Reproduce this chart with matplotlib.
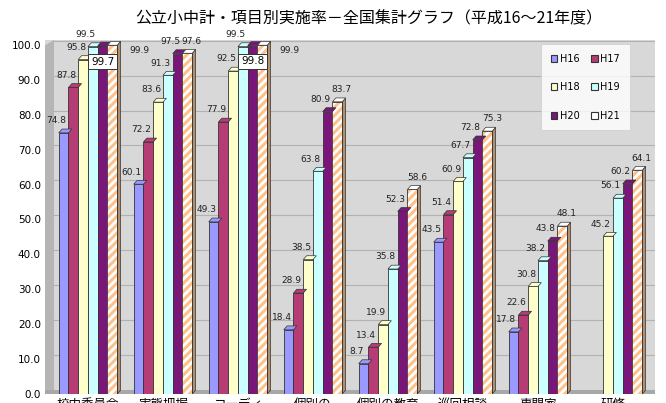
import matplotlib
matplotlib.use("Agg")
from matplotlib import pyplot as plt
from matplotlib.patches import Polygon, Rectangle
import numpy as np

plt.rcParams['font.family'] = ['Noto Sans CJK JP', 'DejaVu Sans']
plt.rcParams['hatch.linewidth'] = 2.2

# 項目別実施率（%）
items = ["校内委員会", "実態把握", "コーディ\nネーター", "個別の\n指導計画",
         "個別の教育\n支援計画", "巡回相談", "専門家\nチーム", "研修"]
years = ["H16", "H17", "H18", "H19", "H20", "H21"]
h16 = [74.8, 60.1, 49.3, 18.4, 8.7, 43.5, 17.8, None]
h17 = [87.8, 72.2, 77.9, 28.9, 13.4, 51.4, 22.6, None]
h18 = [95.8, 83.6, 92.5, 38.5, 19.9, 60.9, 30.8, 45.2]
h19 = [99.5, 91.3, 99.5, 63.8, 35.8, 67.7, 38.2, 56.1]
h20 = [99.7, 97.5, 99.8, 80.9, 52.3, 72.8, 43.8, 60.2]
h21 = [99.9, 97.6, 99.9, 83.7, 58.6, 75.3, 48.1, 64.1]
series = [h16, h17, h18, h19, h20, h21]

colors = ["#9999FF", "#B53C74", "#FFFFCC", "#CCFFFF", "#7A157A", "#FFFFFF"]
sides = ["#6666B0", "#6E1E44", "#B8B88A", "#88B0B0", "#45084A", "#B09070"]

fig = plt.figure(figsize=(6.66, 4.03), dpi=100)
ax = fig.add_axes([45 / 666, 9 / 403, 610 / 666, 354 / 403])

xmin, xmax = -0.573, 7.56
ymax = 101.4
ax.set_xlim(xmin, xmax)
ax.set_ylim(0, ymax)
ax.set_facecolor("#D8D8D8")

# 奥の壁と床
ax.add_patch(Polygon([(xmin, 0), (xmin + 0.12, 1.2), (xmin + 0.12, ymax),
                      (xmin, ymax - 1.5)], closed=True, facecolor="#B5B5B5",
                     edgecolor="none", zorder=0.5))
ax.add_patch(Rectangle((xmin, 0), xmax - xmin, 1.2, facecolor="#A8A8A8",
                       edgecolor="none", zorder=0.6))
for g in range(10, 101, 10):
    ax.plot([xmin + 0.12, xmax], [g + 1.2, g + 1.2], color="#B2B2B2", lw=0.8, zorder=0.7)

w = 0.13
dx, dy = 0.045, 1.1
x = np.arange(len(items))

for j, vals in enumerate(series):
    for i, v in enumerate(vals):
        if v is None:
            continue
        left = x[i] - 3 * w + j * w
        if j == 5:
            ax.bar(left, v, w, align="edge", color="#FFFFFF", hatch="////",
                   edgecolor="#FFC08A", linewidth=0, zorder=3)
            ax.bar(left, v, w, align="edge", fill=False, edgecolor="#333333",
                   linewidth=0.6, zorder=3.1)
        else:
            ax.bar(left, v, w, align="edge", color=colors[j], edgecolor="#333333",
                   linewidth=0.6, zorder=3)
        ax.add_patch(Polygon([(left + w, 0), (left + w + dx, dy), (left + w + dx, v + dy),
                              (left + w, v)], closed=True, facecolor=sides[j],
                             edgecolor="#333333", linewidth=0.5, zorder=2.9))
        ax.add_patch(Polygon([(left, v), (left + dx, v + dy), (left + w + dx, v + dy),
                              (left + w, v)], closed=True, facecolor=colors[j],
                             edgecolor="#333333", linewidth=0.5, zorder=3.2))

        # 数値ラベル
        if j == 4 and i in (0, 2):
            ax.text(left + w * 0.5, v - 4.5, f"{v:.1f}", fontsize=7.5, ha="center",
                    va="center", zorder=5, family="DejaVu Sans",
                    bbox=dict(boxstyle="square,pad=0.25", fc="white", ec="#333333", lw=0.7))
        elif j == 5 and v >= 99.8:
            ax.text(left + w + 0.3, v - 1.5, f"{v:.1f}", fontsize=6.5, ha="center",
                    va="center", zorder=5, color="#222222", family="DejaVu Sans")
        elif j == 5:
            ax.text(left + w * 0.5 + 0.06, v + 2.2, f"{v:.1f}", fontsize=6.5, ha="center",
                    va="bottom", zorder=5, color="#222222", family="DejaVu Sans")
        else:
            ax.text(left - 0.03, v + 2.2, f"{v:.1f}", fontsize=6.5, ha="center",
                    va="bottom", zorder=5, color="#222222", family="DejaVu Sans")

ax.set_yticks(np.arange(0, 101, 10))
ax.set_yticklabels([f"{t:.1f}" for t in range(0, 101, 10)], fontsize=7.5,
                   family="DejaVu Sans")
ax.set_xticks(x)
ax.set_xticklabels(items, fontsize=9, va="top", linespacing=1.0)
ax.tick_params(axis="both", length=0, pad=3)
for s in ax.spines.values():
    s.set_visible(False)

# 凡例は行方向に H16 H17 / H18 H19 / H20 H21
handles = [Rectangle((0, 0), 1, 1, facecolor=c, edgecolor="#333333", lw=0.8)
           for c in colors]
order = [0, 2, 4, 1, 3, 5]
leg = ax.legend([handles[k] for k in order], [years[k] for k in order], ncol=2,
                loc="upper left", bbox_to_anchor=(491 / 610, 1 + 1 / 354),
                frameon=True, fancybox=False,
                handlelength=0.7, handleheight=0.7, handletextpad=0.3,
                labelspacing=1.9, columnspacing=1.1, borderpad=1.0,
                prop={"family": "DejaVu Sans", "size": 7})
leg.get_frame().set_edgecolor("#CCCCCC")
leg.get_frame().set_linewidth(0.6)
leg.set_zorder(6)

fig.text(369 / 666, 1 - 19 / 403, "公立小中計・項目別実施率－全国集計グラフ（平成16～21年度）",
         fontsize=11.5, ha="center", va="center")

fig.savefig("out.png", dpi=100)
